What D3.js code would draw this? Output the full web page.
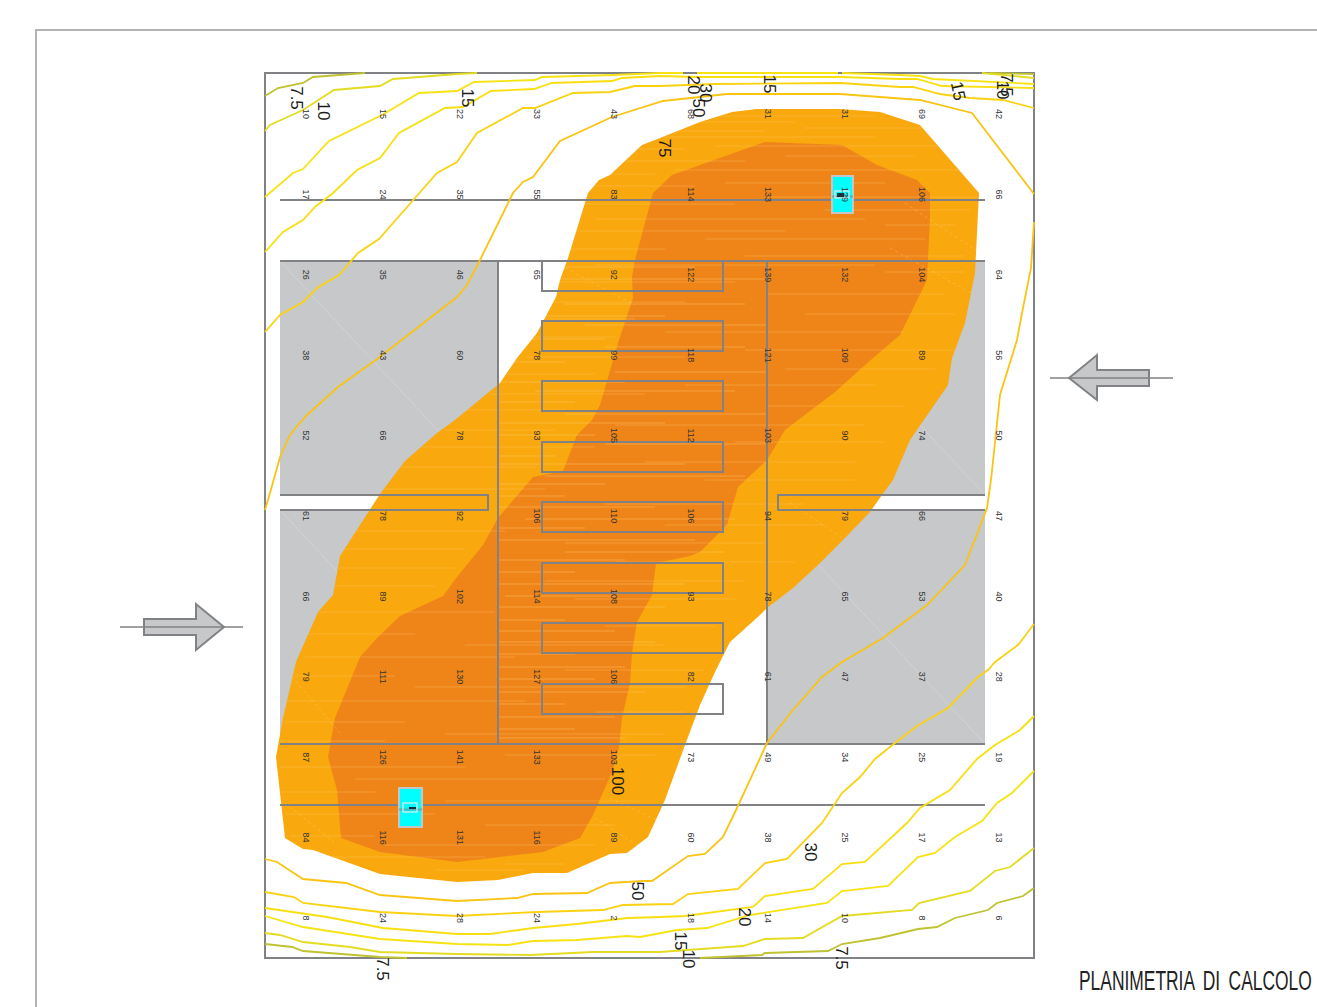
<!DOCTYPE html>
<html>
<head>
<meta charset="utf-8">
<title>Planimetria di calcolo</title>
<script src="https://cdn.jsdelivr.net/npm/d3@7"></script>
<style>
html, body { margin: 0; padding: 0; background: #fff; overflow: hidden; }
svg { display: block; }
</style>
</head>
<body>
<div id="chart"></div>
<script>
// plan units: origin at the top left corner of the calculation area
var planWidth = 769, planHeight = 885;

// lux values of the calculation grid, row by row
var gridValues = [
    ["10", "15", "22", "33", "43", "68", "31", "31", "69", "42"],
    ["17", "24", "35", "55", "83", "114", "133", "129", "106", "66"],
    ["26", "35", "46", "65", "92", "122", "139", "132", "104", "64"],
    ["38", "43", "60", "78", "99", "118", "121", "109", "89", "56"],
    ["52", "66", "78", "93", "105", "112", "103", "90", "74", "50"],
    ["61", "78", "92", "106", "110", "106", "94", "79", "66", "47"],
    ["66", "89", "102", "114", "108", "93", "78", "65", "53", "40"],
    ["79", "111", "130", "127", "106", "82", "61", "47", "37", "28"],
    ["87", "126", "141", "133", "103", "73", "49", "34", "25", "19"],
    ["84", "116", "131", "116", "89", "60", "38", "25", "17", "13"],
    ["8", "24", "28", "24", "2", "18", "14", "10", "8", "6"]
];

// filled isolux areas
var area75 = [[377,72],[395,65],[435,49],[467,39],[492,36],[575,36],[615,39],[655,52],[714,120],[710,200],[700,250],[687,285],[683,312],[645,367],[628,407],[617,422],[605,439],[578,467],[553,492],[528,515],[502,535],[495,542],[465,569],[450,599],[435,632],[420,672],[400,727],[383,764],[362,780],[345,781],[302,800],[268,800],[233,807],[192,809],[115,801],[48,777],[38,776],[20,765],[11,684],[18,645],[31,589],[53,539],[68,522],[75,483],[115,421],[140,388],[172,360],[190,347],[235,310],[252,285],[272,260],[291,224],[295,207],[303,185],[323,120],[334,107],[345,102]];
var area100 = [[388,120],[407,102],[500,69],[577,72],[612,92],[652,107],[665,120],[665,144],[662,207],[635,262],[608,285],[570,319],[520,357],[502,387],[473,414],[462,452],[435,479],[425,483],[391,490],[387,522],[372,549],[367,580],[365,610],[357,645],[354,674],[348,697],[328,742],[315,765],[278,779],[192,789],[115,779],[76,765],[72,717],[63,684],[70,645],[95,584],[113,564],[135,543],[178,523],[192,504],[218,472],[233,445],[268,404],[298,398],[312,362],[327,347],[335,332],[353,270],[368,225],[367,204],[370,187]];

// isolux lines
var iso75 = [
    [[0,23],[13,15],[38,10],[48,4],[100,0]],
    [[0,871],[27,874],[38,878],[115,884],[142,885]],
    [[435,885],[497,882],[500,880],[563,878],[577,871],[615,865],[653,856],[672,854],[690,845],[723,837],[732,830],[758,823],[769,815]],
    [[725,0],[769,1]]
];
var iso10 = [
    [[0,58],[5,52],[38,37],[69,17],[115,13],[128,6],[192,1],[212,0]],
    [[0,860],[15,862],[38,869],[85,874],[115,879],[192,881],[265,882],[328,879],[395,879],[408,878],[478,873],[500,866],[538,865],[577,843],[647,837],[654,830],[705,818],[730,798],[745,794],[769,775]],
    [[717,0],[769,5]]
];
var iso15 = [
    [[0,124],[28,100],[38,96],[64,68],[117,42],[154,20],[192,18],[209,9],[270,7],[277,4],[348,2],[395,0],[418,0]],
    [[432,0],[573,0]],
    [[577,0],[635,2],[655,3],[668,6],[769,11]],
    [[0,843],[38,854],[115,866],[192,871],[243,872],[268,868],[312,867],[362,863],[375,864],[412,857],[442,855],[485,842],[562,830],[577,818],[623,813],[653,784],[670,780],[690,764],[717,748],[732,730],[747,720],[769,698]]
];
var iso20 = [
    [[0,179],[18,159],[38,147],[50,134],[68,120],[92,97],[115,85],[134,60],[180,35],[198,34],[226,18],[269,16],[287,10],[347,8],[357,5],[395,3],[432,4],[575,4],[635,6],[652,6],[677,13],[769,15]],
    [[0,835],[62,844],[118,855],[192,861],[225,861],[268,855],[312,851],[362,845],[395,844],[420,843],[488,834],[500,823],[548,816],[577,791],[600,789],[642,750],[655,735],[685,717],[712,686],[730,672],[755,657],[769,643]]
];
var iso30 = [
    [[0,259],[15,242],[38,229],[52,215],[74,202],[93,180],[114,166],[150,125],[172,100],[192,89],[212,60],[258,35],[270,35],[308,20],[345,19],[370,13],[395,13],[450,11],[575,10],[635,14],[648,14],[675,21],[705,25],[738,27],[769,35]],
    [[0,819],[29,824],[38,830],[115,839],[192,843],[272,839],[338,837],[358,832],[408,831],[423,821],[473,816],[500,790],[522,786],[557,750],[577,720],[595,704],[610,686],[630,670],[652,653],[683,635],[713,604],[723,597],[730,589],[753,572],[769,551]]
];
var iso50 = [
    [[0,437],[5,420],[15,384],[25,362],[33,352],[42,342],[73,314],[112,286],[192,224],[202,212],[215,187],[248,120],[258,109],[268,104],[295,68],[347,44],[398,28],[462,21],[575,21],[655,27],[707,40],[769,121]],
    [[769,149],[766,195],[757,240],[752,267],[735,322],[731,360],[726,407],[722,435],[700,492],[662,532],[618,565],[577,589],[557,604],[528,637],[502,670],[472,735],[458,764],[440,781],[423,783],[387,808],[378,808],[345,810],[322,820],[268,821],[252,825],[192,828],[115,822],[81,810],[38,806],[12,789],[0,786]]
];

var isoColors = ["#bfc231", "#e4dc22", "#f7e313", "#fadf10", "#fbd212", "#f9c414"];

// labels on the isolux lines
var isoLabels = ["7.5", "10", "15", "20", "30", "50", "15", "75", "15", "10", "7.5", "100", "30", "50", "20", "15", "10", "7.5", "7.5"];
var isoLabelPos = [[31,25],[58,38],[202,25],[428,12],[440,20],[433,35],[504,11],[399,75],[693,18],[737,17],[741,12],[352,708],[545,779],[372,818],[479,844],[415,868],[423,886],[576,885],[117,896]];
var isoLabelTilt = [90, 90, 90, 90, 90, 90, 90, 90, 78, 90, 90, 90, 90, 90, 90, 90, 90, 90, 90];

// building outline
var panels = [[15,188,218,234],[15,437,218,234],[502,188,218,234],[502,437,218,234]];
var hallLines = [[15,127,720,127],[15,188,720,188],[15,671,720,671],[15,732,720,732],[233,188,233,671],[502,188,502,671]];
var slots = [
    [[15,422],[223,422],[223,437],[15,437]],
    [[720,422],[513,422],[513,437],[720,437]]
];
var racksTop = [188, 248, 308, 369, 429, 490, 550, 611];
var rackX = [277, 458];
var rackHeight = 30;

// the two projectors
var fixtures = [[567,103,21,37],[134,715,23,39]];
var fixtureHeads = [[570,118,14,7],[138,730,14,9]];
var fixtureMarks = [[572,120,7,4],[144,734,7,2]];

// north/south access arrows
var arrowLeft = [[-121,546],[-69,546],[-69,531],[-41,554],[-69,577],[-69,562],[-121,562]];
var arrowRight = [[884,297],[832,297],[832,282],[804,305],[832,327],[832,313],[884,313]];
var arrowAxes = [[-145,554,-22,554],[785,305,908,305]];

// light streaks of the fill in the isolux areas: y, from, to
var streaks = [[43,430,610],[49,370,530],[55,540,660],[58,400,500],[64,350,610],[73,450,690],[76,330,420],[83,520,650],[88,345,480],[97,410,700],
    [101,330,390],[110,460,620],[113,320,430],[124,500,712],[131,310,470],[137,560,705],[146,330,600],[152,620,690],[158,300,520],[166,440,660],
    [176,305,400],[183,480,700],[192,330,610],[199,620,700],[209,295,470],[221,500,680],[229,285,420],[241,540,690],[246,280,370],[259,400,640],
    [264,270,350],[277,480,690],[284,262,420],[296,520,670],[301,240,330],[312,420,610],[321,225,380],[333,500,640],[337,190,300],[352,350,600],
    [357,180,290],[369,470,620],[374,150,330],[389,380,590],[394,130,270],[407,440,590],[416,110,280],[431,340,540],[437,100,210],[452,400,560],
    [458,85,240],[470,300,500],[476,70,200],[489,350,530],[495,65,190],[508,280,480],[513,60,170],[526,310,470],[539,50,230],[553,340,450],
    [561,40,150],[572,200,400],[584,40,250],[597,300,440],[603,30,130],[614,150,420],[628,20,260],[639,330,420],[649,20,140],[661,180,400],
    [668,15,120],[682,240,390],[694,15,200],[706,90,340],[719,15,110],[728,180,375],[741,20,170],[752,220,350],[763,25,110],[772,120,330],
    [784,60,220],[791,240,300],[797,170,260]];
// brighter streaks in the bay between the two halls
var bayStreaks = [[194,233,430],[206,290,502],[218,233,370],[231,300,480],[243,240,400],[252,320,502],[266,233,340],[274,340,480],[289,233,300],[299,350,502],
    [309,233,360],[318,270,470],[329,233,310],[341,300,502],[350,233,400],[362,233,330],[371,340,500],[383,233,290],[391,233,420],[403,280,480],
    [411,233,340],[423,233,300],[434,233,390],[446,260,470],[455,233,320],[467,233,430],[479,300,460],[487,233,360],[499,233,310],[511,233,420],
    [523,240,350],[534,233,400],[547,233,300],[558,233,350],[569,233,390],[581,233,310],[594,233,360],[606,233,330],[619,233,380],[631,233,300],
    [644,233,350],[656,233,310],[665,233,360]];
// faint dashed diagonals of the panels, in the outer band of the fill
var fillDiagonals = [[300,195,370,232],[15,590,75,660],[640,130,712,178],[625,175,710,222],[20,730,70,770],[345,725,440,770],[330,745,400,790],[525,430,600,480]];

var xPlan = d3.scaleLinear().domain([0, planWidth]).range([265, 1034]);
var yPlan = d3.scaleLinear().domain([0, planHeight]).range([73, 958]);
var gridCol = d3.scalePoint().domain(d3.range(10)).range([40.5, 733.5]);
var gridRow = d3.scalePoint().domain(d3.range(11)).range([41, 845]);

var line = d3.line()
    .x(function (d) { return xPlan(d[0]); })
    .y(function (d) { return yPlan(d[1]); });

var svg = d3.select("#chart").append("svg")
    .attr("width", 1317)
    .attr("height", 1007);

var defs = svg.append("defs");
defs.append("clipPath").attr("id", "clipFrame")
    .append("rect")
    .attr("x", xPlan(0) - 1).attr("y", yPlan(0) - 1)
    .attr("width", xPlan(planWidth) - xPlan(0) + 2)
    .attr("height", yPlan(planHeight) - yPlan(0) + 2);
defs.append("clipPath").attr("id", "clipFill")
    .append("path").attr("d", line(area75) + "Z");

// sheet border
svg.append("path")
    .attr("d", "M36,1007V30H1317")
    .attr("fill", "none")
    .attr("stroke", "#b3b3b3")
    .attr("stroke-width", 2);

// grey floor panels and their diagonals
svg.selectAll("rect.panel").data(panels).enter().append("rect")
    .attr("class", "panel")
    .attr("x", function (d) { return xPlan(d[0]); })
    .attr("y", function (d) { return yPlan(d[1]); })
    .attr("width", function (d) { return xPlan(d[0] + d[2]) - xPlan(d[0]); })
    .attr("height", function (d) { return yPlan(d[1] + d[3]) - yPlan(d[1]); })
    .attr("fill", "#c6c8ca");
svg.selectAll("line.diag").data(panels).enter().append("line")
    .attr("class", "diag")
    .attr("x1", function (d) { return xPlan(d[0]); })
    .attr("y1", function (d) { return yPlan(d[1]); })
    .attr("x2", function (d) { return xPlan(d[0] + d[2]); })
    .attr("y2", function (d) { return yPlan(d[1] + d[3]); })
    .attr("stroke", "#d2d3d5")
    .attr("stroke-width", 1);

// isolux fills
svg.append("path").attr("d", line(area75) + "Z").attr("fill", "#f9a80e");
svg.append("path").attr("d", line(area100) + "Z").attr("fill", "#ef8518");

var fillTexture = svg.append("g").attr("clip-path", "url(#clipFill)");
function drawStreaks(name, data, opacity) {
    fillTexture.selectAll("line." + name).data(data).enter().append("line")
        .attr("class", name)
        .attr("x1", function (d) { return xPlan(d[1]); })
        .attr("x2", function (d) { return xPlan(d[2]); })
        .attr("y1", function (d) { return yPlan(d[0]); })
        .attr("y2", function (d) { return yPlan(d[0]); })
        .attr("stroke", "#ffd27a")
        .attr("stroke-opacity", opacity)
        .attr("stroke-width", 1);
}
drawStreaks("streak", streaks, 0.3);
drawStreaks("bay", bayStreaks, 0.4);
fillTexture.selectAll("line.fdiag").data(fillDiagonals).enter().append("line")
    .attr("class", "fdiag")
    .attr("x1", function (d) { return xPlan(d[0]); })
    .attr("y1", function (d) { return yPlan(d[1]); })
    .attr("x2", function (d) { return xPlan(d[2]); })
    .attr("y2", function (d) { return yPlan(d[3]); })
    .attr("stroke", "#ffe0a0")
    .attr("stroke-opacity", 0.3)
    .attr("stroke-dasharray", "3,3")
    .attr("stroke-width", 1);

// building lines
var walls = svg.append("g")
    .attr("fill", "none")
    .attr("stroke", "#808285")
    .attr("stroke-width", 2);

walls.selectAll("line").data(hallLines).enter().append("line")
    .attr("x1", function (d) { return xPlan(d[0]); })
    .attr("y1", function (d) { return yPlan(d[1]); })
    .attr("x2", function (d) { return xPlan(d[2]); })
    .attr("y2", function (d) { return yPlan(d[3]); });
walls.selectAll("path.slot").data(slots).enter().append("path")
    .attr("class", "slot")
    .attr("d", line);
walls.selectAll("rect.rack").data(racksTop).enter().append("rect")
    .attr("class", "rack")
    .attr("x", xPlan(rackX[0]))
    .attr("y", function (d) { return yPlan(d); })
    .attr("width", xPlan(rackX[1]) - xPlan(rackX[0]))
    .attr("height", function (d) { return yPlan(d + rackHeight) - yPlan(d); });

// frame of the calculation area
svg.append("rect")
    .attr("x", xPlan(0)).attr("y", yPlan(0))
    .attr("width", xPlan(planWidth) - xPlan(0))
    .attr("height", yPlan(planHeight) - yPlan(0))
    .attr("fill", "none")
    .attr("stroke", "#808285")
    .attr("stroke-width", 2);

// projectors
function drawBoxes(data, fill, stroke, strokeWidth) {
    svg.append("g").selectAll("rect").data(data).enter().append("rect")
        .attr("x", function (d) { return xPlan(d[0]); })
        .attr("y", function (d) { return yPlan(d[1]); })
        .attr("width", function (d) { return xPlan(d[0] + d[2]) - xPlan(d[0]); })
        .attr("height", function (d) { return yPlan(d[1] + d[3]) - yPlan(d[1]); })
        .attr("fill", fill)
        .attr("stroke", stroke)
        .attr("stroke-width", strokeWidth);
}
drawBoxes(fixtures, "#00ffff", "#c3c5c7", 2);
svg.append("g").selectAll("line").data(fixtures).enter().append("line")
    .attr("x1", function (d) { return xPlan(d[0]); })
    .attr("x2", function (d) { return xPlan(d[0] + d[2]); })
    .attr("y1", function (d) { return yPlan(d[1] + d[3] / 2 + 2); })
    .attr("y2", function (d) { return yPlan(d[1] + d[3] / 2 + 2); })
    .attr("stroke", "#808285")
    .attr("stroke-opacity", 0.6)
    .attr("stroke-width", 2);
drawBoxes(fixtureHeads, "none", "#e8e9ea", 1.2);
drawBoxes(fixtureMarks, "#10323c", "none", 0);

// isolux lines
var isoGroup = svg.append("g")
    .attr("clip-path", "url(#clipFrame)")
    .attr("fill", "none")
    .attr("stroke-width", 1.8);
[iso75, iso10, iso15, iso20, iso30, iso50].forEach(function (level, i) {
    isoGroup.append("g")
        .attr("stroke", isoColors[i])
        .selectAll("path").data(level).enter().append("path")
        .attr("d", line);
});

// grid numbers
gridValues.forEach(function (row, r) {
    svg.append("g").selectAll("text").data(row).enter().append("text")
        .attr("transform", function (d, c) {
            return "translate(" + xPlan(gridCol(c)) + "," + yPlan(gridRow(r)) + ") rotate(90)";
        })
        .attr("text-anchor", "middle")
        .attr("dominant-baseline", "central")
        .attr("font-family", "'Liberation Sans', Arial, sans-serif")
        .attr("font-size", 9)
        .attr("fill", "#333")
        .text(function (d) { return d; });
});

// isolux labels
svg.append("g").selectAll("text").data(isoLabels).enter().append("text")
    .attr("transform", function (d, i) {
        var p = isoLabelPos[i];
        return "translate(" + xPlan(p[0]) + "," + yPlan(p[1]) + ") rotate(" + isoLabelTilt[i] + ")";
    })
    .attr("text-anchor", "middle")
    .attr("dominant-baseline", "central")
    .attr("font-family", "'Liberation Sans', Arial, sans-serif")
    .attr("font-size", 17)
    .attr("fill", "#1c1c1c")
    .text(function (d) { return d; });

// access arrows
svg.selectAll("path.arrow").data([arrowLeft, arrowRight]).enter().append("path")
    .attr("class", "arrow")
    .attr("d", function (d) { return line(d) + "Z"; })
    .attr("fill", "#c6c8ca")
    .attr("stroke", "#808285")
    .attr("stroke-width", 2);
svg.selectAll("line.axis").data(arrowAxes).enter().append("line")
    .attr("class", "axis")
    .attr("x1", function (d) { return xPlan(d[0]); })
    .attr("y1", function (d) { return yPlan(d[1]); })
    .attr("x2", function (d) { return xPlan(d[2]); })
    .attr("y2", function (d) { return yPlan(d[3]); })
    .attr("stroke", "#808285")
    .attr("stroke-width", 1.6);

// sheet title, squeezed to the width it has on the sheet
var title = svg.append("text")
    .attr("font-family", "'Liberation Sans Narrow', 'Liberation Sans', sans-serif")
    .attr("font-size", 28)
    .attr("word-spacing", 6)
    .attr("fill", "#222")
    .text("PLANIMETRIA DI CALCOLO");
var titleScale = 233 / title.node().getComputedTextLength();
title.attr("transform", "translate(1079,990) scale(" + titleScale + ",1)");
</script>
</body>
</html>
